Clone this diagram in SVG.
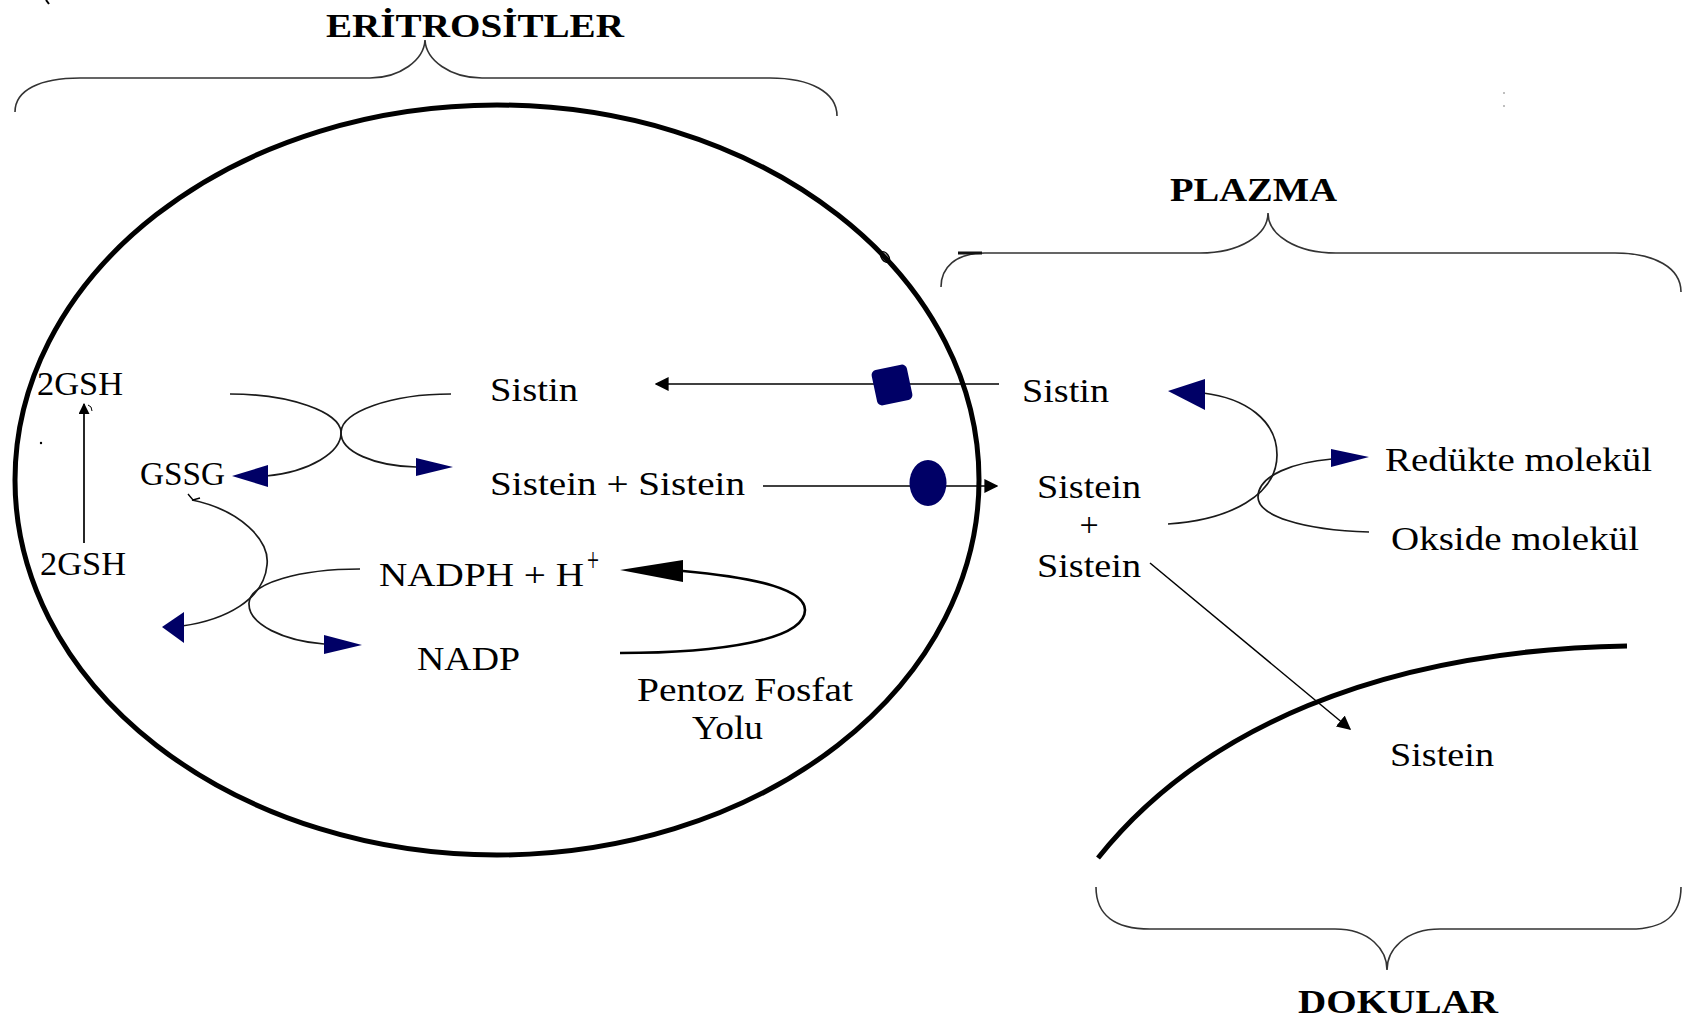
<svg xmlns="http://www.w3.org/2000/svg" width="1693" height="1022" viewBox="0 0 1693 1022">
<defs>
<style>
.t{font-family:"Liberation Serif","Times New Roman",serif;font-size:34px;fill:#000}
.b{font-weight:bold}
.thin{fill:none;stroke:#1a1a1a;stroke-width:1.7}
.brace{fill:none;stroke:#333;stroke-width:1.6}
.navy{fill:#000066}
</style>
<marker id="ah" viewBox="0 0 10 10" refX="9" refY="5" markerWidth="11" markerHeight="11" markerUnits="userSpaceOnUse" orient="auto"><path d="M0,0 L10,5 L0,10 z" fill="#000"/></marker>
<marker id="ahL" viewBox="0 0 10 10" refX="9" refY="5" markerWidth="14" markerHeight="14" markerUnits="userSpaceOnUse" orient="auto"><path d="M0,0 L10,5 L0,10 z" fill="#000"/></marker>
</defs>
<rect width="1693" height="1022" fill="#fff"/>

<g id="braces">
<path class="brace" d="M15 112 C15 90 40 78 80 78 L370 78 C400 78 424 60 425 40 C426 60 450 78 482 78 L770 78 C810 78 837 92 837 116"/>
<path class="brace" d="M941 287 C941 268 955 253 985 253 L1200 253 C1240 253 1268 235 1268 213 C1268 235 1296 253 1336 253 L1615 253 C1655 253 1681 268 1681 292"/>
<path class="brace" d="M1096 887 C1096 915 1115 929 1150 929 L1335 929 C1370 929 1387 950 1387 970 C1387 950 1405 929 1440 929 L1630 929 C1665 929 1681 915 1681 887"/>
<path d="M958 253 L982 253" stroke="#111" stroke-width="3"/>
</g>

<g id="titles">
<text class="t b" x="326" y="37" font-size="36" textLength="298" lengthAdjust="spacingAndGlyphs">ERİTROSİTLER</text>
<text class="t b" x="1170" y="201" font-size="33" textLength="167" lengthAdjust="spacingAndGlyphs">PLAZMA</text>
<text class="t b" x="1298" y="1013" font-size="35" textLength="200" lengthAdjust="spacingAndGlyphs">DOKULAR</text>
</g>

<g id="cell">
<ellipse cx="497" cy="480" rx="482" ry="375" fill="none" stroke="#000" stroke-width="5"/>
<ellipse cx="885" cy="257" rx="3.5" ry="6" fill="none" stroke="#000" stroke-width="1.5" transform="rotate(-35 885 257)"/>
<circle cx="41" cy="443" r="1.2" fill="#000"/>
<path d="M46 0 L49 4" stroke="#000" stroke-width="2"/>
<circle cx="1504" cy="93" r="1" fill="#aaa"/>
<circle cx="1504" cy="106" r="1" fill="#aaa"/>
</g>

<g id="tissue">
<path d="M1098 858 C1200 730 1380 650 1627 646" fill="none" stroke="#000" stroke-width="5"/>
</g>

<g id="connectors">
<!-- 2GSH up arrow -->
<line x1="84" y1="543" x2="84" y2="404" stroke="#000" stroke-width="1.7" marker-end="url(#ah)"/>
<path d="M88 405 L91 407 L92 411" fill="none" stroke="#000" stroke-width="1"/>
<!-- upper X -->
<path class="thin" d="M230 394 C290 394 340 412 341 432 C342 452 310 472 266 476"/>
<polygon class="navy" points="232,476 268,465 268,487"/>
<path class="thin" d="M451 394 C390 394 342 412 341 432 C340 452 375 466 416 467"/>
<polygon class="navy" points="453,467 416,458 416,476"/>
<!-- lower X -->
<path class="thin" d="M192 500 C240 510 270 540 267 565 C264 600 225 620 182 626"/>
<path d="M188 494 L193 500 L200 498" fill="none" stroke="#000" stroke-width="1.4"/>
<polygon class="navy" points="162,627 184,612 184,643"/>
<path class="thin" d="M360 569 C300 569 250 583 249 603 C248 625 285 641 324 644"/>
<polygon class="navy" points="362,645 324,635 324,654"/>
<!-- Pentoz loop -->
<path d="M683 571 C760 578 805 590 805 610 C805 640 720 653 620 653" fill="none" stroke="#000" stroke-width="2.6"/>
<polygon points="620,570 683,560 683,582" fill="#000"/>
<!-- Sistin transport -->
<line x1="999" y1="384" x2="656" y2="384" stroke="#000" stroke-width="1.7" marker-end="url(#ahL)"/>
<!-- Sistein transport -->
<line x1="763" y1="486" x2="997" y2="486" stroke="#000" stroke-width="1.7" marker-end="url(#ahL)"/>
<!-- plasma curves -->
<path class="thin" d="M1168 524 C1230 520 1277 495 1277 455 C1277 420 1245 398 1203 393"/>
<polygon class="navy" points="1168,391 1205,379 1205,410"/>
<path class="thin" d="M1369 532 C1300 530 1258 515 1258 497 C1258 475 1295 462 1332 459"/>
<polygon class="navy" points="1369,457 1331,449 1331,467"/>
<!-- diagonal -->
<line x1="1150" y1="563" x2="1350" y2="729" stroke="#000" stroke-width="1.5" marker-end="url(#ahL)"/>
</g>

<g id="transporters">
<rect x="874" y="367" width="36" height="36" rx="5" class="navy" transform="rotate(-12 892 385)"/>
<ellipse cx="928" cy="483" rx="18.5" ry="23" class="navy"/>
</g>

<g id="labels">
<text class="t" x="37" y="395" font-size="31" textLength="86" lengthAdjust="spacingAndGlyphs">2GSH</text>
<text class="t" x="140" y="485" font-size="27" textLength="85" lengthAdjust="spacingAndGlyphs">GSSG</text>
<text class="t" x="40" y="575" font-size="31" textLength="86" lengthAdjust="spacingAndGlyphs">2GSH</text>
<text class="t" x="490" y="401" textLength="88" lengthAdjust="spacingAndGlyphs">Sistin</text>
<text class="t" x="490" y="495" textLength="255" lengthAdjust="spacingAndGlyphs">Sistein + Sistein</text>
<text class="t" x="379" y="586" textLength="205" lengthAdjust="spacingAndGlyphs">NADPH + H</text>
<text class="t" x="587" y="571" font-size="22" textLength="12" lengthAdjust="spacingAndGlyphs">+</text>
<text class="t" x="417" y="670" textLength="103" lengthAdjust="spacingAndGlyphs">NADP</text>
<text class="t" x="637" y="701" textLength="216" lengthAdjust="spacingAndGlyphs">Pentoz Fosfat</text>
<text class="t" x="692" y="739" textLength="71" lengthAdjust="spacingAndGlyphs">Yolu</text>
<text class="t" x="1022" y="402" textLength="87" lengthAdjust="spacingAndGlyphs">Sistin</text>
<text class="t" x="1037" y="498" textLength="104" lengthAdjust="spacingAndGlyphs">Sistein</text>
<text class="t" x="1089" y="536" text-anchor="middle">+</text>
<text class="t" x="1037" y="577" textLength="104" lengthAdjust="spacingAndGlyphs">Sistein</text>
<text class="t" x="1385" y="471" textLength="267" lengthAdjust="spacingAndGlyphs">Redükte molekül</text>
<text class="t" x="1391" y="550" textLength="248" lengthAdjust="spacingAndGlyphs">Okside molekül</text>
<text class="t" x="1390" y="766" textLength="104" lengthAdjust="spacingAndGlyphs">Sistein</text>
</g>
</svg>
